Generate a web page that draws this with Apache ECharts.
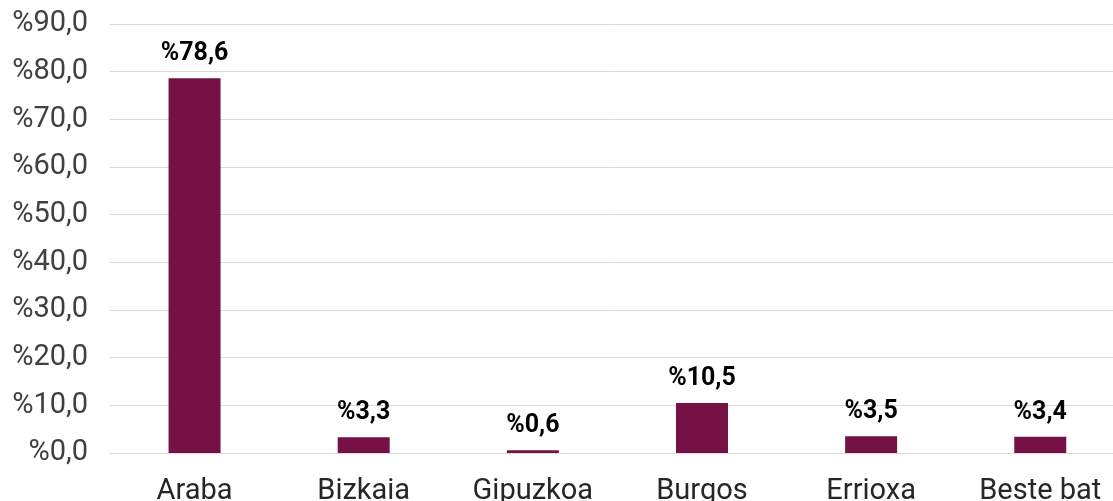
<!DOCTYPE html>
<html>
<head>
<meta charset="utf-8">
<script src="https://cdn.jsdelivr.net/npm/echarts@6/dist/echarts.min.js"></script>
<style>html,body{margin:0;padding:0;background:#fff}#c{width:1113px;height:501px}</style>
</head>
<body>
<div id="c"></div>
<script>
var categories = ['Araba', 'Bizkaia', 'Gipuzkoa', 'Burgos', 'Errioxa', 'Beste bat'];
var values = [78.6, 3.3, 0.6, 10.5, 3.5, 3.4];
var fmt = function (v) { return '%' + Number(v).toFixed(1).replace('.', ','); };
var positions = categories.map(function (c, i) { return i; });
var chart = echarts.init(document.getElementById('c'));
chart.setOption({
  animation: false,
  grid: { left: 110, top: 24, right: 0, bottom: 48, containLabel: false, outerBoundsMode: 'none' },
  xAxis: {
    type: 'value', min: -0.5, max: 5.43,
    splitLine: { show: false },
    axisLine: { show: true, lineStyle: { color: '#d9d9d9', width: 1 } },
    axisTick: { show: false },
    axisLabel: {
      customValues: positions,
      color: '#262626', fontSize: 29, fontFamily: 'Roboto', margin: 24,
      formatter: function (v) { return categories[Math.round(v)] || ''; }
    }
  },
  yAxis: {
    type: 'value', min: 0, max: 90, interval: 10,
    axisLine: { show: false }, axisTick: { show: false },
    splitLine: { lineStyle: { color: '#d9d9d9', width: 1 } },
    axisLabel: { color: '#404040', fontSize: 29, fontFamily: 'Roboto', margin: 22, formatter: fmt }
  },
  series: [{
    type: 'bar', data: values.map(function (v, i) { return [positions[i], v]; }), barWidth: 52,
    itemStyle: { color: '#751145' },
    label: { show: true, position: 'top', distance: 12, color: '#000', fontSize: 25, fontWeight: 'bold', fontFamily: 'Roboto', formatter: function (p) { return fmt(p.value[1]); } }
  }]
});
</script>
</body>
</html>
